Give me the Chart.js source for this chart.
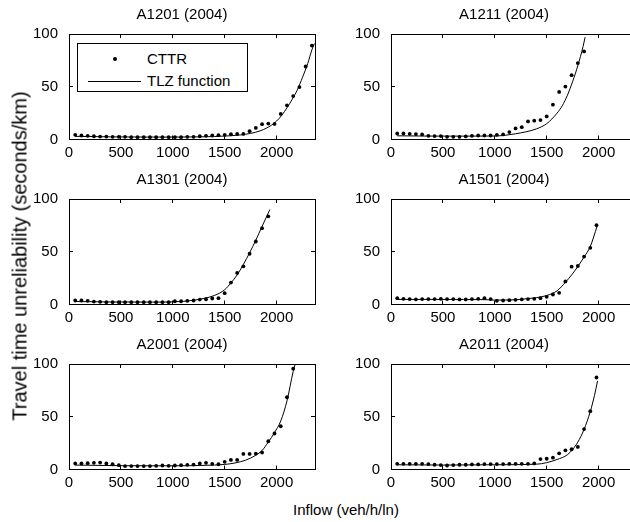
<!DOCTYPE html>
<html lang="en">
<head>
<meta charset="UTF-8">
<title>Travel time unreliability vs inflow</title>
<style>
  html, body { margin: 0; padding: 0; background: #fff; }
  body {
    width: 630px; height: 522px; position: relative; overflow: hidden;
    font-family: 'Liberation Sans', Arial, sans-serif; color: #000;
  }
  canvas { position: absolute; }
  .ylabel {
    position: absolute; left: 20px; top: 256px; white-space: nowrap; font-size: 20px;
    transform: translate(-50%, -50%) rotate(-90deg);
  }
  .xlabel {
    position: absolute; left: 346px; top: 509px; white-space: nowrap; font-size: 15px;
    transform: translate(-50%, -50%);
  }
  #legend {
    position: absolute; left: 77px; top: 43px; width: 171px; height: 49px;
    box-sizing: border-box; border: 1px solid #000; background: #fff; font-size: 15px;
  }
  #legend .item { position: absolute; left: 0; width: 100%; height: 20px; }
  #legend .mark { position: absolute; left: 10px; top: 0; width: 53px; height: 20px; }
  #legend .dot { position: absolute; left: 25px; top: 8px; width: 4px; height: 4px; border-radius: 50%; background: #000; }
  #legend .line { position: absolute; left: 0; top: 10px; width: 53px; height: 1px; background: #000; }
  #legend .txt { position: absolute; left: 69px; top: 1px; line-height: 18px; white-space: nowrap; }
</style>
</head>
<body>
<canvas id="c1" width="364" height="158" style="left:0px;top:6px"></canvas>
<canvas id="c2" width="364" height="158" style="left:322px;top:6px"></canvas>
<canvas id="c3" width="364" height="158" style="left:0px;top:171px"></canvas>
<canvas id="c4" width="364" height="158" style="left:322px;top:171px"></canvas>
<canvas id="c5" width="364" height="158" style="left:0px;top:336px"></canvas>
<canvas id="c6" width="364" height="158" style="left:322px;top:336px"></canvas>
<div id="legend"></div>
<div class="ylabel">Travel time unreliability (seconds/km)</div>
<div class="xlabel">Inflow (veh/h/ln)</div>

<script src="https://cdn.jsdelivr.net/npm/chart.js"></script>
<script>
// inflow of each CTTR observation (veh/h/ln)
const flows = [60, 120, 180, 240, 300, 360, 420, 480, 540, 600, 660, 720, 780, 840, 900, 960,
  1020, 1080, 1140, 1200, 1260, 1320, 1380, 1440, 1500, 1560, 1620, 1680, 1740, 1800, 1860,
  1920, 1980, 2040, 2100, 2160, 2220, 2280, 2340];

const titles = ['A1201 (2004)', 'A1211 (2004)', 'A1301 (2004)', 'A1501 (2004)', 'A2001 (2004)', 'A2011 (2004)'];

// CTTR values (seconds/km), one per flow
const cttrA1201 = [4.4, 3.8, 3.5, 3.1, 2.8, 2.8, 2.5, 2.5, 2.5, 2.2, 2.2, 2.2, 2.2, 2.2, 2.2, 2.2, 2.2, 2.2, 2.5, 2.5,
  3.1, 3.5, 3.8, 4.1, 4.4, 5.0, 5.3, 5.3, 7.9, 11.0, 14.5, 15.1, 14.8, 24.2, 32.4, 41.2, 49.7, 69.2, 89.0];
const cttrA1211 = [5.7, 5.7, 5.4, 5.1, 4.8, 3.5, 3.2, 3.2, 2.5, 2.5, 2.5, 2.9, 3.5, 3.8, 3.8, 3.8, 4.4, 4.8, 7.0, 10.5,
  11.7, 17.1, 17.8, 18.4, 21.9, 33.0, 45.1, 50.2, 61.0, 72.4, 83.5];
const cttrA1301 = [3.8, 3.8, 3.5, 2.8, 2.5, 2.2, 2.2, 2.2, 2.2, 2.2, 2.2, 2.2, 2.2, 2.2, 2.2, 2.2, 3.1, 3.1, 3.5, 3.8,
  4.7, 5.0, 5.7, 6.0, 10.7, 20.8, 29.9, 36.2, 48.1, 59.7, 72.3, 83.6];
const cttrA1501 = [6.0, 5.4, 5.1, 4.8, 5.1, 5.1, 5.1, 5.4, 5.1, 5.1, 4.8, 4.8, 5.1, 5.4, 6.0, 5.1, 3.5, 3.8, 4.1, 4.4,
  4.8, 5.1, 5.4, 6.0, 7.3, 9.5, 11.1, 21.9, 35.9, 36.5, 45.4, 53.7, 75.2];
const cttrA2001 = [5.7, 5.7, 6.0, 6.3, 6.6, 5.7, 5.0, 4.1, 3.2, 3.2, 3.2, 3.2, 3.2, 3.5, 3.8, 3.5, 3.8, 4.1, 4.4, 4.7,
  5.7, 6.3, 5.4, 5.0, 7.3, 9.1, 9.1, 14.8, 14.8, 15.1, 16.1, 26.8, 34.1, 41.0, 68.5, 95.6];
const cttrA2011 = [5.4, 5.4, 5.4, 5.4, 5.4, 5.1, 4.5, 4.2, 3.8, 4.2, 4.5, 4.5, 4.8, 4.8, 5.1, 5.1, 5.1, 5.1, 5.4, 5.4,
  5.4, 5.4, 5.8, 9.9, 10.2, 11.2, 15.3, 18.2, 19.2, 21.4, 38.3, 55.3, 87.2];

// TLZ function curves
const tlzXA1201 = [60, 400, 800, 1200, 1400, 1550, 1650, 1750, 1850, 1950, 2000, 2050, 2100, 2150, 2200, 2250, 2300, 2340, 2365];
const tlzYA1201 = [3.0, 2.5, 2.3, 2.4, 2.8, 3.5, 4.3, 5.8, 8.5, 13.5, 17.5, 23, 30, 38, 47, 59, 72, 85, 91];
const tlzXA1211 = [60, 400, 800, 1000, 1100, 1200, 1300, 1400, 1500, 1600, 1650, 1700, 1750, 1800, 1850, 1870];
const tlzYA1211 = [3.5, 3.2, 3.2, 3.3, 4.0, 5.4, 7.3, 10, 15, 25, 32, 42, 55, 70, 88, 97];
const tlzXA1301 = [60, 400, 800, 1000, 1100, 1200, 1300, 1400, 1500, 1560, 1620, 1680, 1740, 1800, 1860, 1935];
const tlzYA1301 = [2.8, 2.4, 2.3, 2.5, 3.0, 4.0, 5.8, 8.5, 14, 20.5, 28, 38, 49, 61, 74, 90];
const tlzXA1501 = [60, 500, 900, 1000, 1200, 1300, 1400, 1500, 1600, 1680, 1740, 1800, 1860, 1920, 1985];
const tlzYA1501 = [4.8, 4.8, 4.6, 4.2, 4.5, 5.4, 6.5, 8.5, 13, 21, 28, 36, 45, 55, 74];
const tlzXA2001 = [60, 500, 1000, 1400, 1500, 1600, 1700, 1800, 1860, 1920, 1980, 2040, 2100, 2160, 2180];
const tlzYA2001 = [4.2, 3.6, 3.5, 4.2, 4.8, 6.2, 8.8, 13.5, 18, 26, 35, 46, 65, 93, 100];
const tlzXA2011 = [60, 500, 1000, 1400, 1500, 1600, 1700, 1750, 1800, 1860, 1920, 1960, 1990];
const tlzYA2011 = [4.5, 4.2, 4.5, 5.0, 6.5, 9.5, 14, 19, 26, 38, 55, 70, 84];

const xMax = 2370;
const xTicks = [0, 500, 1000, 1500, 2000];
const yTicks = [0, 50, 100];

Chart.defaults.font.family = "'Liberation Sans', Arial, sans-serif";
Chart.defaults.color = '#000';

function pairs(xs, ys) {
  return ys.map((y, i) => ({ x: xs[i], y: y }));
}

// inward matlab-style tick marks on all four sides
function axisGrid() {
  return { drawOnChartArea: false, drawTicks: true, tickLength: -4, color: '#000', lineWidth: 1 };
}

function makeChart(id, title, cttr, tlzX, tlzY) {
  const ctx = document.getElementById(id).getContext('2d');
  return new Chart(ctx, {
    type: 'scatter',
    data: {
      datasets: [
        {
          label: 'CTTR',
          data: pairs(flows, cttr),
          pointRadius: 1.9,
          pointBackgroundColor: '#000',
          pointBorderWidth: 0,
          showLine: false
        },
        {
          label: 'TLZ function',
          data: pairs(tlzX, tlzY),
          showLine: true,
          borderColor: '#000',
          borderWidth: 1,
          pointRadius: 0,
          cubicInterpolationMode: 'monotone'
        }
      ]
    },
    options: {
      responsive: false,
      animation: false,
      devicePixelRatio: 1,
      events: [],
      layout: { padding: 0 },
      plugins: {
        legend: { display: false },
        tooltip: { enabled: false },
        title: {
          display: true, text: title, color: '#000',
          font: { size: 15, weight: 'normal' },
          padding: { top: 0, bottom: 10 }
        }
      },
      scales: {
        x: {
          type: 'linear', position: 'bottom', min: 0, max: xMax,
          afterBuildTicks: s => { s.ticks = xTicks.map(v => ({ value: v })); },
          ticks: { font: { size: 15 }, color: '#000', padding: 8, maxRotation: 0, callback: v => String(v) },
          grid: axisGrid(),
          border: { color: '#000', width: 1 },
          afterFit: s => { s.height = 24.5; }
        },
        x2: {
          axis: 'x', type: 'linear', position: 'top', min: 0, max: xMax,
          afterBuildTicks: s => { s.ticks = xTicks.map(v => ({ value: v })); },
          ticks: { display: false },
          grid: axisGrid(),
          border: { color: '#000', width: 1 },
          afterFit: s => { s.height = 0; }
        },
        y: {
          type: 'linear', position: 'left', min: 0, max: 100,
          afterBuildTicks: s => { s.ticks = yTicks.map(v => ({ value: v })); },
          ticks: { font: { size: 15 }, color: '#000', padding: 15, callback: v => String(v) },
          grid: axisGrid(),
          border: { color: '#000', width: 1 },
          afterFit: s => { s.width = 69; }
        },
        y2: {
          // empty right axis: its width keeps the title centred where the original has it
          axis: 'y', type: 'linear', position: 'right', min: 0, max: 100,
          afterBuildTicks: s => { s.ticks = yTicks.map(v => ({ value: v })); },
          ticks: { display: false },
          grid: axisGrid(),
          border: { color: '#000', width: 1 },
          afterFit: s => { s.width = 49; }
        }
      }
    }
  });
}

const chart1 = makeChart('c1', titles[0], cttrA1201, tlzXA1201, tlzYA1201);
makeChart('c2', titles[1], cttrA1211, tlzXA1211, tlzYA1211);
makeChart('c3', titles[2], cttrA1301, tlzXA1301, tlzYA1301);
makeChart('c4', titles[3], cttrA1501, tlzXA1501, tlzYA1501);
makeChart('c5', titles[4], cttrA2001, tlzXA2001, tlzYA2001);
makeChart('c6', titles[5], cttrA2011, tlzXA2011, tlzYA2011);

// html legend for the first panel, built from its datasets
const legendEl = document.getElementById('legend');
chart1.data.datasets.forEach((ds, i) => {
  const item = document.createElement('div');
  item.className = 'item';
  item.style.top = (i === 0 ? 5 : 27) + 'px';
  const mark = document.createElement('div');
  mark.className = 'mark';
  const sym = document.createElement('div');
  sym.className = ds.showLine ? 'line' : 'dot';
  mark.appendChild(sym);
  const txt = document.createElement('div');
  txt.className = 'txt';
  txt.textContent = ds.label;
  item.appendChild(mark);
  item.appendChild(txt);
  legendEl.appendChild(item);
});
</script>
</body>
</html>
